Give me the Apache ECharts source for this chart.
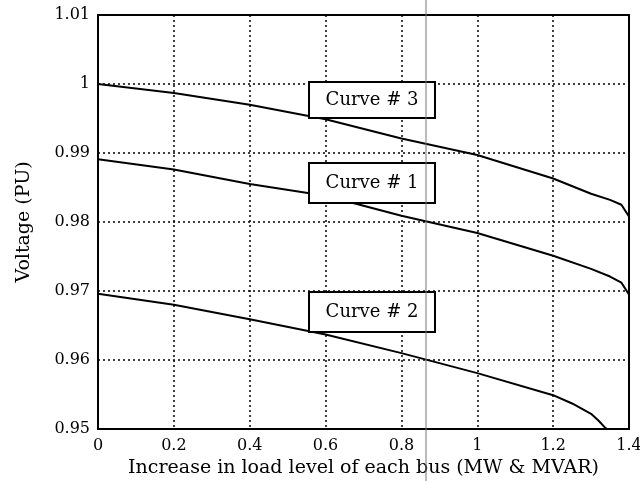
<!DOCTYPE html>
<html>
<head>
<meta charset="utf-8">
<script src="https://cdn.jsdelivr.net/npm/echarts@6/dist/echarts.min.js"></script>
<style>
  html, body { margin: 0; padding: 0; background: #fff; }
  #chart { width: 640px; height: 481px; }
</style>
</head>
<body>
<div id="chart"></div>
<script>
  // values
  const loadLevel = [0, 0.2, 0.4, 0.6, 0.8, 1.0, 1.2, 1.3, 1.35, 1.38, 1.4]
  const curve3 = [1.0, 0.9987, 0.997, 0.9949, 0.9921, 0.9897, 0.9863, 0.9841, 0.9832, 0.9825, 0.9808]
  const curve1 = [0.9891, 0.9876, 0.9855, 0.9838, 0.9809, 0.9784, 0.9751, 0.9732, 0.9721, 0.9712, 0.9695]
  const loadLevel2 = [0, 0.2, 0.4, 0.6, 0.8, 1.0, 1.2, 1.25, 1.3, 1.32, 1.335, 1.342]
  const curve2 = [0.9696, 0.968, 0.9659, 0.9637, 0.961, 0.9581, 0.9549, 0.9537, 0.9522, 0.9512, 0.9503, 0.95]
  const curveNames = ['Curve # 3', 'Curve # 1', 'Curve # 2']

  const serif = 'DejaVu Serif'
  const pair = (xs, ys) => xs.map((x, i) => [x, ys[i]])

  const chart = echarts.init(document.getElementById('chart'))

  const lineSeries = (name, data) => ({
    name: name,
    type: 'line',
    data: data,
    showSymbol: false,
    smooth: false,
    lineStyle: { color: '#000', width: 2 },
    animation: false,
    z: 3
  })

  // boxed labels, left/top corner in pixels
  const labelBox = (text, x, y, h) => ({
    type: 'group',
    left: x,
    top: y,
    z: 100,
    children: [
      {
        type: 'rect',
        z: 100,
        shape: { x: 0, y: 0, width: 126, height: h },
        style: { fill: '#fff', stroke: '#000', lineWidth: 2 }
      },
      {
        type: 'text',
        z: 101,
        x: 63,
        y: h / 2,
        style: {
          text: text,
          font: '18px "DejaVu Serif"',
          fill: '#000',
          align: 'center',
          verticalAlign: 'middle'
        }
      }
    ]
  })

  chart.setOption({
    animation: false,
    grid: {
      left: 98,
      right: 11,
      top: 15,
      bottom: 52,
      outerBoundsMode: 'none',
      containLabel: false,
      show: true,
      borderColor: '#000',
      borderWidth: 2
    },
    xAxis: {
      type: 'value',
      min: 0,
      max: 1.4,
      interval: 0.2,
      name: 'Increase in load level of each bus (MW & MVAR)',
      nameLocation: 'middle',
      nameGap: 27,
      nameTextStyle: { fontFamily: serif, fontSize: 19, color: '#000' },
      axisLine: { show: true, lineStyle: { color: '#000', width: 2 } },
      axisTick: { show: false },
      axisLabel: {
        color: '#000',
        fontFamily: serif,
        fontSize: 16,
        margin: 9,
        formatter: v => (v === 0 || Math.abs(v - 1) < 1e-9) ? String(Math.round(v)) : v.toFixed(1)
      },
      splitLine: { show: true, lineStyle: { color: '#000', type: [2, 3], width: 1.5 } }
    },
    yAxis: {
      type: 'value',
      min: 0.95,
      max: 1.01,
      interval: 0.01,
      name: 'Voltage (PU)',
      nameLocation: 'middle',
      nameGap: 64,
      nameTextStyle: { fontFamily: serif, fontSize: 19, color: '#000' },
      axisLine: { show: true, lineStyle: { color: '#000', width: 1.5 } },
      axisTick: { show: false },
      axisLabel: {
        color: '#000',
        fontFamily: serif,
        fontSize: 16,
        margin: 8,
        formatter: v => Math.abs(v - 1) < 1e-9 ? '1' : v.toFixed(2)
      },
      splitLine: { show: true, lineStyle: { color: '#000', type: [2, 3], width: 1.5 } }
    },
    series: [
      lineSeries(curveNames[0], pair(loadLevel, curve3)),
      lineSeries(curveNames[1], pair(loadLevel, curve1)),
      lineSeries(curveNames[2], pair(loadLevel2, curve2))
    ],
    graphic: [
      labelBox(curveNames[0], 308, 81, 36),
      labelBox(curveNames[1], 308, 162, 40),
      labelBox(curveNames[2], 308, 291, 40),
      // thin scan line running through the whole figure
      {
        type: 'line',
        shape: { x1: 426, y1: 0, x2: 426, y2: 481 },
        style: { stroke: '#777', lineWidth: 1 },
        z: 200
      }
    ]
  })
</script>
</body>
</html>
